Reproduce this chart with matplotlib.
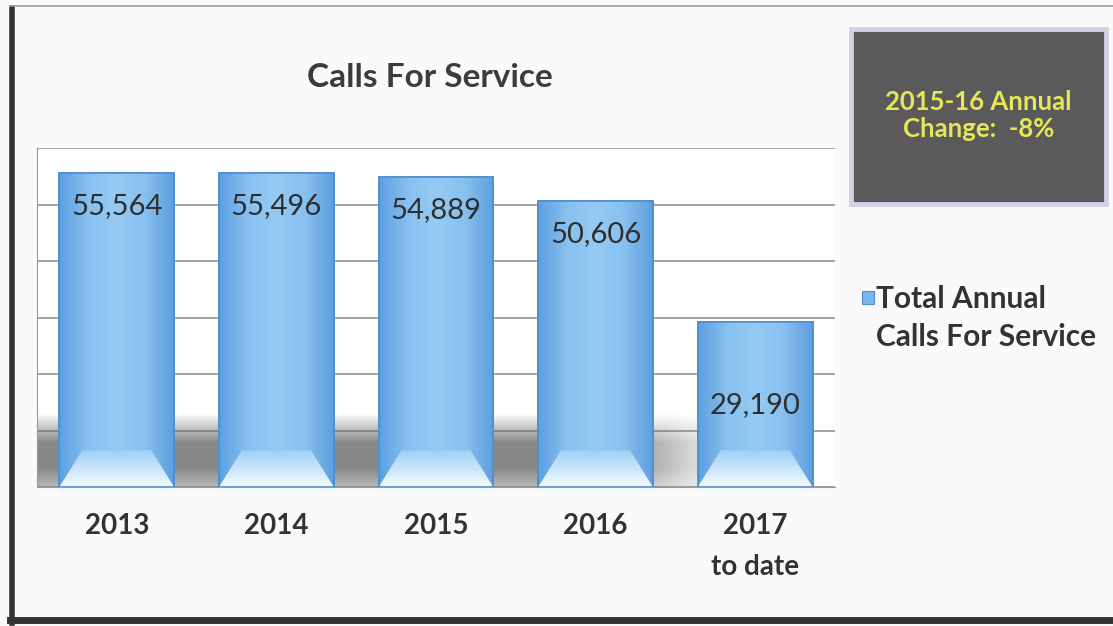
import matplotlib.pyplot as plt
import numpy as np
from matplotlib.patches import Rectangle, FancyBboxPatch, Polygon
from matplotlib.lines import Line2D
from matplotlib.colors import LinearSegmentedColormap

plt.rcParams['font.family'] = ['Lato', 'DejaVu Sans']

# data
years = ["2013", "2014", "2015", "2016", "2017\nto date"]
calls = [55564, 55496, 54889, 50606, 29190]
value_labels = ["55,564", "55,496", "54,889", "50,606", "29,190"]
legend_label = "Total Annual\nCalls For Service"
note_text = "2015-16 Annual\nChange:  -8%"

fig = plt.figure(figsize=(11.13, 6.26), dpi=100)
fig.patch.set_facecolor('#fafafa')
ax = fig.add_axes([0.0332, 0.222, 0.717, 0.5415])
ax.set_facecolor('white')

x = np.arange(len(years))
ax.set_xlim(-0.5, len(years) - 0.5)
ax.set_ylim(0, 60000)

# floor shadow behind the bars
sh = np.zeros((60, 200, 4))
yy = np.linspace(0, 1, 60)[:, None]      # 0 = top of band
xx = np.linspace(0, 1, 200)[None, :]
a_y = np.clip(yy * 2.5, 0, 1) * (1 - 0.4 * np.clip((yy - 0.75) * 4, 0, 1))
a_x = np.clip((1 - xx) * 6, 0, 1)
sh[..., :3] = 0.45
sh[..., 3] = 0.85 * a_y * a_x
ax.imshow(sh, extent=[-0.5, 3.85, 0, 13000], aspect='auto', zorder=1,
          interpolation='bilinear')

ax.set_yticks(np.arange(0, 60001, 10000))
ax.yaxis.grid(True, color='#8a8a8a', lw=1.1, zorder=0)
ax.set_axisbelow(True)
ax.tick_params(axis='y', length=0, labelleft=False)

bars = ax.bar(x, calls, width=0.72, color='#7ab6ec', edgecolor='#4f8fce',
              lw=1.2, zorder=3)

cmap = LinearSegmentedColormap.from_list(
    'b', ['#5e9fdf', '#88c1f0', '#94caf3', '#88c1f0', '#5e9fdf'])
bev_cmap = LinearSegmentedColormap.from_list('w', ['#f4fbff', '#9fd0f5'])
grad = np.linspace(0, 1, 100)[None, :]
vgrad = np.linspace(0, 1, 100)[:, None]
for b in bars:
    x0, w, h = b.get_x(), b.get_width(), b.get_height()
    im = ax.imshow(grad, cmap=cmap, extent=[x0, x0 + w, 0, h], aspect='auto',
                   zorder=3.2, interpolation='bilinear')
    im.set_clip_path(b)
    bev = Polygon([(x0, 0), (x0 + 0.2 * w, 6500), (x0 + 0.8 * w, 6500),
                   (x0 + w, 0)], closed=True, facecolor='none',
                  edgecolor='none', zorder=3.4)
    ax.add_patch(bev)
    bim = ax.imshow(vgrad, cmap=bev_cmap, extent=[x0, x0 + w, 0, 6500],
                    origin='lower', aspect='auto', zorder=3.4,
                    interpolation='bilinear')
    bim.set_clip_path(bev)
    ax.add_patch(Rectangle((x0, 0), w, h, fill=False, edgecolor='#4f8fce',
                           lw=1.2, zorder=3.6))

label_drop = [5800, 5800, 5800, 5800, 14700]
for i, v in enumerate(calls):
    ax.text(x[i], v - label_drop[i], value_labels[i], ha='center', va='center',
            fontsize=21, color='#2e2e2e', zorder=5)

ax.set_xticks(x)
ax.set_xticklabels(years, fontsize=20, fontweight='bold', color='#333333',
                   linespacing=1.7)
ax.tick_params(axis='x', length=0, pad=19)
for s in ['top', 'right']:
    ax.spines[s].set_visible(False)
for s in ['left', 'bottom']:
    ax.spines[s].set_color('#9a9a9a')

fig.text(0.386, 0.876, "Calls For Service", ha='center', va='center',
         fontsize=24, fontweight='bold', color='#3c3c3c')

# legend
fig.patches.append(Rectangle((0.7745, 0.515), 0.011, 0.02,
                             transform=fig.transFigure, facecolor='#7ab6ec',
                             edgecolor='#4f8fce', lw=0.8))
fig.text(0.787, 0.545, legend_label, ha='left', va='top', fontsize=21.5,
         fontweight='bold', color='#333333', linespacing=1.45)

# note box
fig.patches.append(FancyBboxPatch((0.765, 0.674), 0.229, 0.28,
                                  boxstyle='square,pad=0',
                                  transform=fig.transFigure,
                                  facecolor='#5a5a5a', edgecolor='#d4cfe6',
                                  lw=3.5))
fig.text(0.879, 0.816, note_text, ha='center', va='center', fontsize=18.5,
         fontweight='bold', color='#e6e85a', linespacing=1.15)

# outer frame
fig.lines.append(Line2D([0.0108, 0.0108], [0.005, 0.988], transform=fig.transFigure,
                        color='#333333', lw=4))
fig.lines.append(Line2D([0.009, 1.0], [0.01, 0.01], transform=fig.transFigure,
                        color='#333333', lw=5))
fig.lines.append(Line2D([0.009, 1.0], [0.99, 0.99], transform=fig.transFigure,
                        color='#9a9a9a', lw=1.2))

fig.savefig('out.png', dpi=100, facecolor=fig.get_facecolor())
